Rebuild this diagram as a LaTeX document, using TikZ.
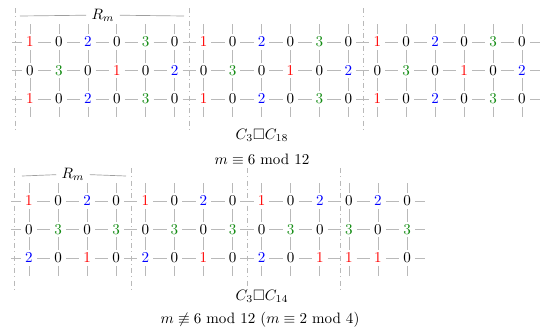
\documentclass[tikz,border=0pt]{standalone}
\usepackage{amssymb}
\definecolor{mygreen}{RGB}{20,140,20}
\begin{document}
\begin{tikzpicture}[x=0.664pt,y=-0.664pt,
  vtx/.style={circle,inner sep=0pt,minimum size=10pt,font=\normalsize},
  c0/.style={vtx,text=black},
  c1/.style={vtx,text=red},
  c2/.style={vtx,text=blue},
  c3/.style={vtx,text=mygreen},
  edge/.style={draw=gray!55,line width=0.45pt},
  sepline/.style={draw=gray!55,line width=0.4pt,dash pattern=on 3.5pt off 2pt on 0.8pt off 2pt},
  brk/.style={draw=gray!75,line width=0.45pt}]
\useasboundingbox (0,0) rectangle (550,333);

% ---------- top grid C3 x C18 ----------
\foreach \r/\yy/\vals in {1/42/{1,0,2,0,3,0,1,0,2,0,3,0,1,0,2,0,3,0},
                          2/70.5/{0,3,0,1,0,2,0,3,0,1,0,2,0,3,0,1,0,2},
                          3/99/{1,0,2,0,3,0,1,0,2,0,3,0,1,0,2,0,3,0}}{
  \foreach \v [count=\c] in \vals {
    \node[c\v] (t\r-\c) at ({30+28.94*(\c-1)},\yy) {$\v$};
  }
}
\foreach \r in {1,2,3}{
  \foreach \c [evaluate=\c as \cn using int(\c+1)] in {1,...,17}{
    \draw[edge] (t\r-\c) -- (t\r-\cn);
  }
  \draw[edge] (t\r-1) -- +(-18,0);
  \draw[edge] (t\r-18) -- +(18,0);
}
\foreach \c in {1,...,18}{
  \draw[edge] (t1-\c) -- (t2-\c);
  \draw[edge] (t2-\c) -- (t3-\c);
  \draw[edge] (t1-\c) -- +(0,-18);
  \draw[edge] (t3-\c) -- +(0,18);
}
\foreach \xx in {15.5,189,363}{
  \draw[sepline] (\xx,8) -- (\xx,132);
}
\node (rmt) at (103,15) {$R_m$};
\draw[brk] (20,16) -- (rmt) -- (184,16);
\node (capt1) at (262,135) {$C_3\square C_{18}$};
\node (capt2) at (262,159) {$m\equiv 6$ mod 12};

% ---------- bottom grid C3 x C14 ----------
\foreach \r/\yy/\vals in {1/201/{1,0,2,0,1,0,2,0,1,0,2,0,2,0},
                          2/229.5/{0,3,0,3,0,3,0,3,0,3,0,3,0,3},
                          3/258/{2,0,1,0,2,0,1,0,2,0,1,1,1,0}}{
  \foreach \v [count=\c] in \vals {
    \node[c\v] (b\r-\c) at ({29+29.08*(\c-1)},\yy) {$\v$};
  }
}
\foreach \r in {1,2,3}{
  \foreach \c [evaluate=\c as \cn using int(\c+1)] in {1,...,13}{
    \draw[edge] (b\r-\c) -- (b\r-\cn);
  }
  \draw[edge] (b\r-1) -- +(-18,0);
  \draw[edge] (b\r-14) -- +(18,0);
}
\foreach \c in {1,...,14}{
  \draw[edge] (b1-\c) -- (b2-\c);
  \draw[edge] (b2-\c) -- (b3-\c);
  \draw[edge] (b1-\c) -- +(0,-18);
  \draw[edge] (b3-\c) -- +(0,18);
}
\foreach \xx in {14.5,131,247,340}{
  \draw[sepline] (\xx,168) -- (\xx,289);
}
\node (rmb) at (73,174) {$R_m$};
\draw[brk] (22,176) -- (rmb) -- (126,176);
\node (capb1) at (262,296) {$C_3\square C_{14}$};
\node (capb2) at (260,320) {$m\not\equiv 6$ mod 12 ($m\equiv 2$ mod 4)};
\end{tikzpicture}
\end{document}
